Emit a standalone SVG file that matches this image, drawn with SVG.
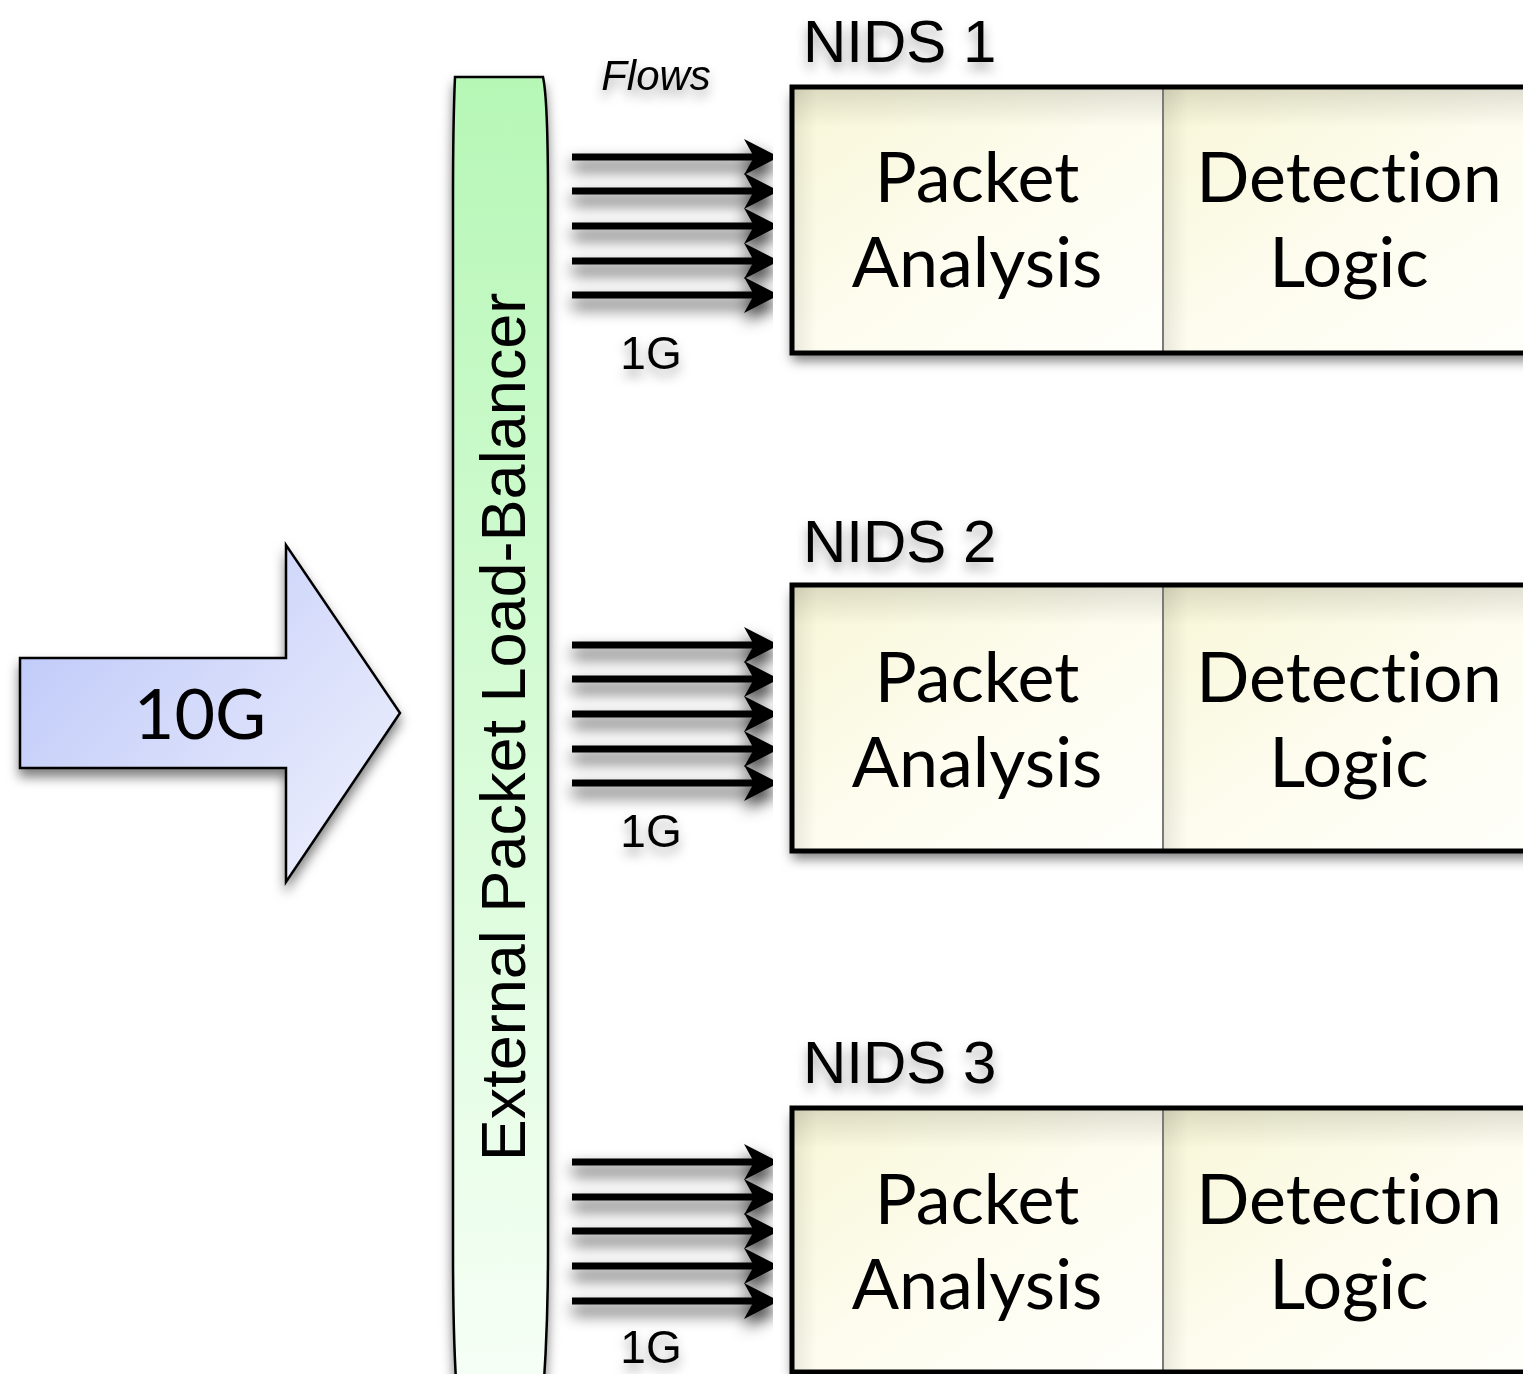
<svg xmlns="http://www.w3.org/2000/svg" width="1523" height="1374" viewBox="0 0 1523 1374">
  <defs>
    <linearGradient id="gradInput" x1="20" y1="545" x2="400" y2="882" gradientUnits="userSpaceOnUse">
      <stop offset="0" stop-color="#b9c5f8"/>
      <stop offset="1" stop-color="#f1f2fd"/>
    </linearGradient>
    <linearGradient id="gradBalancer" x1="0" y1="77" x2="0" y2="1380" gradientUnits="userSpaceOnUse">
      <stop offset="0" stop-color="#b6f7b6"/>
      <stop offset="1" stop-color="#f6fff6"/>
    </linearGradient>
    <linearGradient id="gradCell" x1="0" y1="0" x2="1" y2="1">
      <stop offset="0" stop-color="#f8f6d6"/>
      <stop offset="0.5" stop-color="#fdfcee"/>
      <stop offset="1" stop-color="#fffffb"/>
    </linearGradient>
    <linearGradient id="gradInnerTop" x1="0" y1="0" x2="0" y2="1">
      <stop offset="0" stop-color="#000" stop-opacity="0.12"/>
      <stop offset="1" stop-color="#000" stop-opacity="0"/>
    </linearGradient>
    <linearGradient id="gradInnerLeft" x1="0" y1="0" x2="1" y2="0">
      <stop offset="0" stop-color="#000" stop-opacity="0.08"/>
      <stop offset="1" stop-color="#000" stop-opacity="0"/>
    </linearGradient>
    <filter id="shadow" x="-20%" y="-20%" width="140%" height="140%">
      <feDropShadow dx="0" dy="8" stdDeviation="6" flood-color="#000" flood-opacity="0.5"/>
    </filter>
    <filter id="textShadow" x="-20%" y="-40%" width="140%" height="180%">
      <feDropShadow dx="0" dy="7" stdDeviation="6" flood-color="#000" flood-opacity="0.35"/>
    </filter>
    <filter id="flowShadow" x="-10%" y="-30%" width="120%" height="160%">
      <feDropShadow dx="0" dy="9" stdDeviation="8" flood-color="#000" flood-opacity="0.85"/>
    </filter>
    <marker id="head" markerUnits="userSpaceOnUse" markerWidth="40" markerHeight="40" viewBox="-36 -20 40 40" refX="-25" refY="0" orient="auto">
      <path d="M0,0 L-35,-18 L-25,0 L-35,18 Z" fill="#000"/>
    </marker>
    <style>
      .box { fill: none; stroke: #000; stroke-width: 5; }
      .cell { fill: url(#gradCell); }
      .divider { stroke: #7a7a7a; stroke-width: 2; }
      .gill { font-family: Lato, "Open Sans", sans-serif; font-size: 70px; fill: #000; text-anchor: middle; font-variant-ligatures: none; }
      .helv { font-family: "Liberation Sans", Arial, sans-serif; fill: #000; }
      .nids { font-size: 60px; }
      .rate { font-size: 46px; text-anchor: middle; }
      .flow { stroke: #000; stroke-width: 7; fill: none; marker-end: url(#head); }
    </style>
  </defs>

  <rect width="1523" height="1374" fill="#fff"/>

  <!-- 10G input arrow -->
  <g id="input">
    <path d="M20,658 L286,658 L286,545 L400,713 L286,882 L286,768 L20,768 Z" fill="url(#gradInput)" stroke="#000" stroke-width="2.5" stroke-linejoin="miter" filter="url(#shadow)"/>
    <text x="200" y="739" class="gill" font-size="66">10G</text>
  </g>

  <!-- load balancer bar -->
  <g id="balancer">
    <path d="M455,77 L543,77 C547,95 548,140 548,200 L548,1250 C548,1320 546,1355 543,1395 L457,1395 C454,1355 453,1320 453,1250 L453,200 C453,140 454,100 455,77 Z" fill="url(#gradBalancer)" stroke="#000" stroke-width="2.5" filter="url(#shadow)"/>
    <text class="helv" font-size="63" text-anchor="middle" transform="translate(525,727) rotate(-90)">External Packet Load-Balancer</text>
  </g>

  <!-- flow connectors -->
  <g id="connectors" filter="url(#flowShadow)">
    <line class="flow" x1="572" y1="157" x2="754" y2="157"/>
    <line class="flow" x1="572" y1="191" x2="754" y2="191"/>
    <line class="flow" x1="572" y1="226" x2="754" y2="226"/>
    <line class="flow" x1="572" y1="261" x2="754" y2="261"/>
    <line class="flow" x1="572" y1="295" x2="754" y2="295"/>

    <line class="flow" x1="572" y1="645" x2="754" y2="645"/>
    <line class="flow" x1="572" y1="679" x2="754" y2="679"/>
    <line class="flow" x1="572" y1="714" x2="754" y2="714"/>
    <line class="flow" x1="572" y1="749" x2="754" y2="749"/>
    <line class="flow" x1="572" y1="783" x2="754" y2="783"/>

    <line class="flow" x1="572" y1="1162" x2="754" y2="1162"/>
    <line class="flow" x1="572" y1="1197" x2="754" y2="1197"/>
    <line class="flow" x1="572" y1="1231" x2="754" y2="1231"/>
    <line class="flow" x1="572" y1="1266" x2="754" y2="1266"/>
    <line class="flow" x1="572" y1="1301" x2="754" y2="1301"/>
  </g>

  <!-- connector labels -->
  <g id="labels" filter="url(#textShadow)">
    <text x="656" y="90" class="helv" font-size="42" font-style="italic" text-anchor="middle">Flows</text>
    <text x="651" y="369" class="helv rate">1G</text>
    <text x="651" y="847" class="helv rate">1G</text>
    <text x="651" y="1363" class="helv rate">1G</text>
  </g>

  <!-- NIDS 1 -->
  <g id="nids1">
    <text x="803" y="62" class="helv nids" filter="url(#textShadow)">NIDS 1</text>
    <rect x="792" y="87" width="760" height="266" fill="#fff" filter="url(#shadow)"/>
    <rect x="792" y="87" width="371" height="266" class="cell"/>
    <rect x="1163" y="87" width="389" height="266" class="cell"/>
    <rect x="792" y="87" width="760" height="40" fill="url(#gradInnerTop)"/>
    <rect x="792" y="87" width="25" height="266" fill="url(#gradInnerLeft)"/>
    <rect x="1163" y="87" width="25" height="266" fill="url(#gradInnerLeft)"/>
    <line x1="1163" y1="87" x2="1163" y2="353" class="divider"/>
    <rect x="792" y="87" width="760" height="266" class="box"/>
    <text x="977" y="202" class="gill">Packet</text>
    <text x="977" y="287" class="gill">Analysis</text>
    <text x="1349" y="202" class="gill">Detection</text>
    <text x="1349" y="287" class="gill">Logic</text>
  </g>

  <!-- NIDS 2 -->
  <g id="nids2">
    <text x="803" y="562" class="helv nids" filter="url(#textShadow)">NIDS 2</text>
    <rect x="792" y="585" width="760" height="266" fill="#fff" filter="url(#shadow)"/>
    <rect x="792" y="585" width="371" height="266" class="cell"/>
    <rect x="1163" y="585" width="389" height="266" class="cell"/>
    <rect x="792" y="585" width="760" height="40" fill="url(#gradInnerTop)"/>
    <rect x="792" y="585" width="25" height="266" fill="url(#gradInnerLeft)"/>
    <rect x="1163" y="585" width="25" height="266" fill="url(#gradInnerLeft)"/>
    <line x1="1163" y1="585" x2="1163" y2="851" class="divider"/>
    <rect x="792" y="585" width="760" height="266" class="box"/>
    <text x="977" y="702" class="gill">Packet</text>
    <text x="977" y="787" class="gill">Analysis</text>
    <text x="1349" y="702" class="gill">Detection</text>
    <text x="1349" y="787" class="gill">Logic</text>
  </g>

  <!-- NIDS 3 -->
  <g id="nids3">
    <text x="803" y="1083" class="helv nids" filter="url(#textShadow)">NIDS 3</text>
    <rect x="792" y="1108" width="760" height="264" fill="#fff" filter="url(#shadow)"/>
    <rect x="792" y="1108" width="371" height="264" class="cell"/>
    <rect x="1163" y="1108" width="389" height="264" class="cell"/>
    <rect x="792" y="1108" width="760" height="40" fill="url(#gradInnerTop)"/>
    <rect x="792" y="1108" width="25" height="264" fill="url(#gradInnerLeft)"/>
    <rect x="1163" y="1108" width="25" height="264" fill="url(#gradInnerLeft)"/>
    <line x1="1163" y1="1108" x2="1163" y2="1372" class="divider"/>
    <rect x="792" y="1108" width="760" height="264" class="box"/>
    <text x="977" y="1224" class="gill">Packet</text>
    <text x="977" y="1309" class="gill">Analysis</text>
    <text x="1349" y="1224" class="gill">Detection</text>
    <text x="1349" y="1309" class="gill">Logic</text>
  </g>
</svg>
